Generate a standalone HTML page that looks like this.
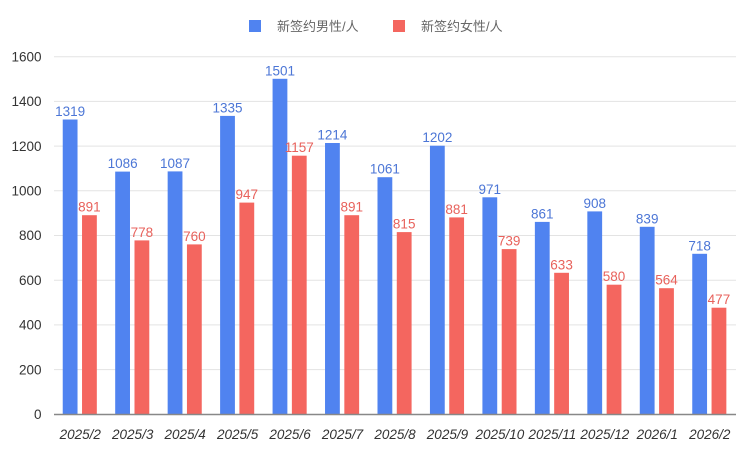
<!DOCTYPE html>
<html><head><meta charset="utf-8"><style>
html,body{margin:0;padding:0;background:#fff;}
svg{display:block;font-family:"Liberation Sans","Noto Sans CJK SC",sans-serif;}
</style></head><body>
<svg width="750" height="450" viewBox="0 0 750 450" xmlns="http://www.w3.org/2000/svg">
<rect width="750" height="450" fill="#fff"/>
<!-- legend -->
<rect x="249" y="20" width="12" height="12" fill="#5083F0"/>
<text x="277" y="31" font-size="13" fill="#666">新签约男性/人</text>
<rect x="393" y="20" width="12" height="12" fill="#F4665F"/>
<text x="421" y="31" font-size="13" fill="#666">新签约女性/人</text>
<!-- grid -->
<g stroke="#e3e3e3" stroke-width="1">
<line x1="54" x2="736" y1="56.7" y2="56.7"/>
<line x1="54" x2="736" y1="101.4" y2="101.4"/>
<line x1="54" x2="736" y1="146.1" y2="146.1"/>
<line x1="54" x2="736" y1="190.8" y2="190.8"/>
<line x1="54" x2="736" y1="235.5" y2="235.5"/>
<line x1="54" x2="736" y1="280.2" y2="280.2"/>
<line x1="54" x2="736" y1="324.9" y2="324.9"/>
<line x1="54" x2="736" y1="369.6" y2="369.6"/>
</g>
<g font-size="13.5" fill="#333" text-anchor="end">
<text x="41.5" y="61.4">1600</text>
<text x="41.5" y="106.1">1400</text>
<text x="41.5" y="150.8">1200</text>
<text x="41.5" y="195.5">1000</text>
<text x="41.5" y="240.2">800</text>
<text x="41.5" y="284.9">600</text>
<text x="41.5" y="329.6">400</text>
<text x="41.5" y="374.3">200</text>
<text x="41.5" y="419">0</text>
</g>
<!-- blue bars -->
<g fill="#5083F0">
<rect x="62.73" y="119.5" width="14.8" height="294.8"/>
<rect x="115.19" y="171.6" width="14.8" height="242.7"/>
<rect x="167.65" y="171.4" width="14.8" height="242.9"/>
<rect x="220.11" y="115.9" width="14.8" height="298.4"/>
<rect x="272.57" y="78.8" width="14.8" height="335.5"/>
<rect x="325.03" y="143.0" width="14.8" height="271.3"/>
<rect x="377.49" y="177.2" width="14.8" height="237.1"/>
<rect x="429.95" y="145.7" width="14.8" height="268.6"/>
<rect x="482.41" y="197.3" width="14.8" height="217.0"/>
<rect x="534.87" y="221.9" width="14.8" height="192.4"/>
<rect x="587.33" y="211.4" width="14.8" height="202.9"/>
<rect x="639.79" y="226.8" width="14.8" height="187.5"/>
<rect x="692.25" y="253.8" width="14.8" height="160.5"/>
</g>
<!-- red bars -->
<g fill="#F4665F">
<rect x="82.03" y="215.2" width="14.8" height="199.1"/>
<rect x="134.49" y="240.4" width="14.8" height="173.9"/>
<rect x="186.95" y="244.4" width="14.8" height="169.9"/>
<rect x="239.41" y="202.6" width="14.8" height="211.7"/>
<rect x="291.87" y="155.7" width="14.8" height="258.6"/>
<rect x="344.33" y="215.2" width="14.8" height="199.1"/>
<rect x="396.79" y="232.1" width="14.8" height="182.2"/>
<rect x="449.25" y="217.4" width="14.8" height="196.9"/>
<rect x="501.71" y="249.1" width="14.8" height="165.2"/>
<rect x="554.17" y="272.8" width="14.8" height="141.5"/>
<rect x="606.63" y="284.7" width="14.8" height="129.6"/>
<rect x="659.09" y="288.2" width="14.8" height="126.1"/>
<rect x="711.55" y="307.7" width="14.8" height="106.6"/>
</g>
<!-- axis -->
<line x1="54" x2="736" y1="414.5" y2="414.5" stroke="#888" stroke-width="1.5"/>
<!-- blue labels -->
<g font-size="13.5" fill="#4C76D6" text-anchor="middle">
<text x="70.13" y="116">1319</text>
<text x="122.59" y="168.1">1086</text>
<text x="175.05" y="167.9">1087</text>
<text x="227.51" y="112.4">1335</text>
<text x="279.97" y="75.3">1501</text>
<text x="332.43" y="139.5">1214</text>
<text x="384.89" y="173.7">1061</text>
<text x="437.35" y="142.2">1202</text>
<text x="489.81" y="193.8">971</text>
<text x="542.27" y="218.4">861</text>
<text x="594.73" y="207.9">908</text>
<text x="647.19" y="223.3">839</text>
<text x="699.65" y="250.3">718</text>
</g>
<!-- red labels -->
<g font-size="13.5" fill="#E8625C" text-anchor="middle">
<text x="89.43" y="211.7">891</text>
<text x="141.89" y="236.9">778</text>
<text x="194.35" y="240.9">760</text>
<text x="246.81" y="199.1">947</text>
<text x="299.27" y="152.2">1157</text>
<text x="351.73" y="211.7">891</text>
<text x="404.19" y="228.6">815</text>
<text x="456.65" y="213.9">881</text>
<text x="509.11" y="245.6">739</text>
<text x="561.57" y="269.3">633</text>
<text x="614.03" y="281.2">580</text>
<text x="666.49" y="284.7">564</text>
<text x="718.95" y="304.2">477</text>
</g>
<!-- x labels -->
<g font-size="13.5" fill="#333" text-anchor="middle" font-style="italic">
<text x="80.23" y="439">2025/2</text>
<text x="132.69" y="439">2025/3</text>
<text x="185.15" y="439">2025/4</text>
<text x="237.61" y="439">2025/5</text>
<text x="290.07" y="439">2025/6</text>
<text x="342.53" y="439">2025/7</text>
<text x="394.99" y="439">2025/8</text>
<text x="447.45" y="439">2025/9</text>
<text x="499.91" y="439">2025/10</text>
<text x="552.37" y="439">2025/11</text>
<text x="604.83" y="439">2025/12</text>
<text x="657.29" y="439">2026/1</text>
<text x="709.75" y="439">2026/2</text>
</g>
</svg>
</body></html>
